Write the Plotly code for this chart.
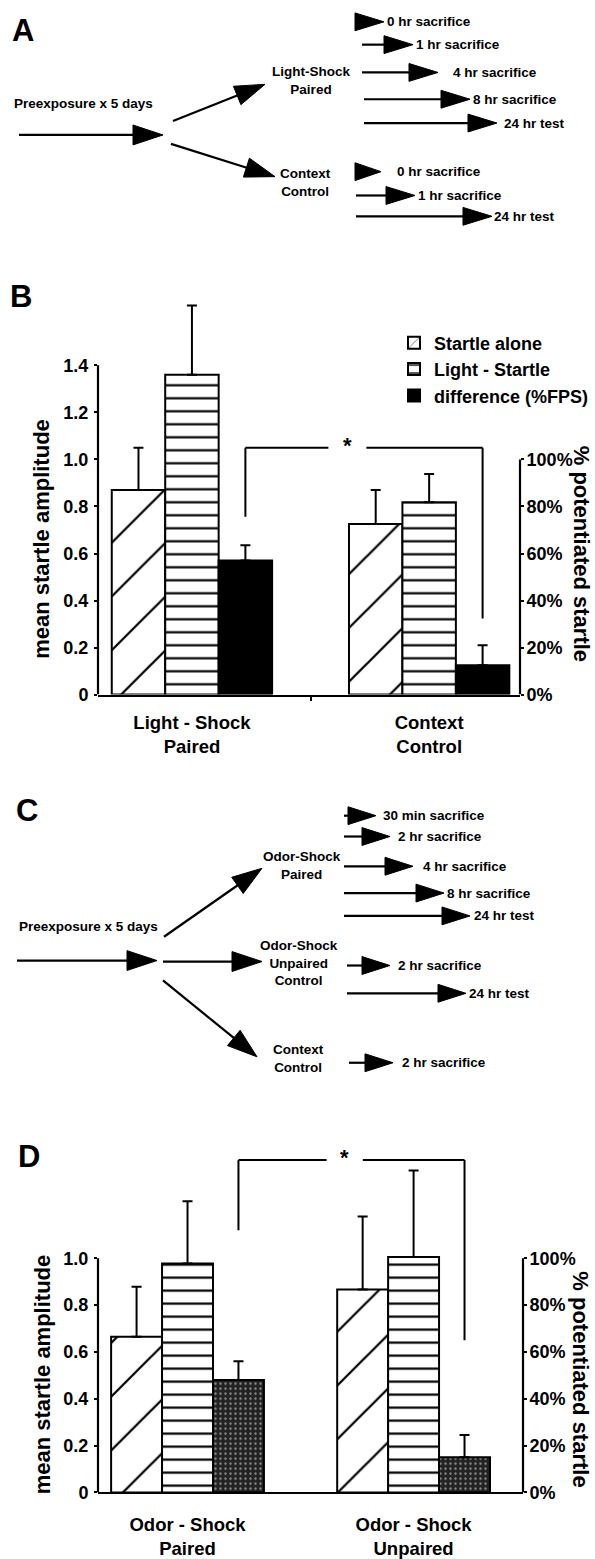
import math
import plotly.graph_objects as go

W, H = 595, 1559

# ---------------- data ----------------
series_names = ["Startle alone", "Light - Startle", "difference (%FPS)"]

groups_B = ["Light - Shock<br>Paired", "Context<br>Control"]
startle_alone_B = [0.87, 0.725]
startle_alone_err_B = [0.18, 0.145]
light_startle_B = [1.36, 0.818]
light_startle_err_B = [0.295, 0.12]
fps_B = [57, 12.5]
fps_err_B = [6.5, 8.5]
sig_B = [1.05, 0.756, 0.324]  # bracket top, left end, right end

groups_D = ["Odor - Shock<br>Paired", "Odor - Shock<br>Unpaired"]
startle_alone_D = [0.665, 0.866]
startle_alone_err_D = [0.213, 0.312]
light_startle_D = [0.978, 1.005]
light_startle_err_D = [0.265, 0.37]
fps_D = [48, 15]
fps_err_D = [8, 9.5]
sig_D = [1.42, 1.12, 0.65]

amp_ticks_B = [0, 0.2, 0.4, 0.6, 0.8, 1.0, 1.2, 1.4]
amp_labels_B = ["0", "0.2", "0.4", "0.6", "0.8", "1.0", "1.2", "1.4"]
amp_ticks_D = [0, 0.2, 0.4, 0.6, 0.8, 1.0]
amp_labels_D = ["0", "0.2", "0.4", "0.6", "0.8", "1.0"]
pct_ticks = [0, 20, 40, 60, 80, 100]
pct_labels = ["0%", "20%", "40%", "60%", "80%", "100%"]

left_title = "mean startle amplitude"
right_title = "% potentiated startle"

# diagram text
A_start = "Preexposure x 5 days"
A_branches = ["Light-Shock<br>Paired", "Context<br>Control"]
A_paired_ends = ["0 hr sacrifice", "1 hr sacrifice", "4 hr sacrifice", "8 hr sacrifice", "24 hr test"]
A_context_ends = ["0 hr sacrifice", "1 hr sacrifice", "24 hr test"]
C_start = "Preexposure x 5 days"
C_branches = ["Odor-Shock<br>Paired", "Odor-Shock<br>Unpaired<br>Control", "Context<br>Control"]
C_paired_ends = ["30 min sacrifice", "2 hr sacrifice", "4 hr sacrifice", "8 hr sacrifice", "24 hr test"]
C_unpaired_ends = ["2 hr sacrifice", "24 hr test"]
C_context_ends = ["2 hr sacrifice"]
panel_letters = ["A", "B", "C", "D"]

# ---------------- layout geometry (pixels) ----------------
def px_x(p):
    return p / W


def px_y(p):
    return 1 - p / H


CHART_FONT = "Liberation Sans, Arial, Helvetica, sans-serif"
DIAG_FONT = "Liberation Sans, Arial, Helvetica, sans-serif"
DIAG_SIZE = 13.5

B_geo = dict(left=98, right=520, zero=700, top=290, unit=237, xr=[-0.396, 1.383])
D_geo = dict(left=98, right=523, zero=1504, top=1150, unit=236, xr=[-0.396, 1.484])
BARGAP = 0.324
BAR_W = (1 - BARGAP) / 3

fig = go.Figure()

err_style = dict(type="data", symmetric=False, color="black", thickness=2, width=5)


def add_panel(cats, sa, sae, ls, lse, fps, fpse, xa, ya, ya2, grp, diff_marker, show):
    fig.add_trace(go.Bar(
        x=cats, y=sa, name=series_names[0], xaxis=xa, yaxis=ya,
        offsetgroup="1", alignmentgroup=grp, showlegend=show, legendgroup="g1",
        marker=dict(color="white", line=dict(color="black", width=2),
                    pattern=dict(shape="/", size=38, solidity=0.06, fgcolor="black", bgcolor="white",
                                 fgopacity=1)),
        error_y=dict(array=sae, arrayminus=[0] * len(sae), **err_style)))
    fig.add_trace(go.Bar(
        x=cats, y=ls, name=series_names[1], xaxis=xa, yaxis=ya,
        offsetgroup="2", alignmentgroup=grp, showlegend=show, legendgroup="g2",
        marker=dict(color="white", line=dict(color="black", width=2),
                    pattern=dict(shape="-", size=13, solidity=0.17, fgcolor="black", bgcolor="white",
                                 fgopacity=1)),
        error_y=dict(array=lse, arrayminus=[0] * len(lse), **err_style)))
    fig.add_trace(go.Bar(
        x=cats, y=fps, name=series_names[2], xaxis=xa, yaxis=ya2,
        offsetgroup="3", alignmentgroup=grp, showlegend=show, legendgroup="g3",
        marker=diff_marker,
        error_y=dict(array=fpse, arrayminus=[0] * len(fpse), **err_style)))


add_panel(groups_B, startle_alone_B, startle_alone_err_B, light_startle_B, light_startle_err_B,
          fps_B, fps_err_B, "x", "y", "y2", "B",
          dict(color="black", line=dict(color="black", width=2)), True)
add_panel(groups_D, startle_alone_D, startle_alone_err_D, light_startle_D, light_startle_err_D,
          fps_D, fps_err_D, "x2", "y3", "y4", "D",
          dict(color="#2b2b2b", line=dict(color="black", width=2),
               pattern=dict(shape=".", size=5, solidity=0.18, fgcolor="#8a8a8a", bgcolor="#222222",
                            fgopacity=1)), False)

tickfont = dict(family=CHART_FONT, size=18, color="black", weight="bold")
catfont = dict(family=CHART_FONT, size=18.5, color="black", weight="bold")


def yaxis_cfg(geo, top_val, ticks, labels, side="left", overlay=None, standoff=0):
    d = dict(domain=[px_y(geo["zero"]), px_y(geo["top"])], range=[0, top_val],
             tickvals=ticks, ticktext=labels, ticks="outside", ticklen=3, tickwidth=2,
             tickcolor="black", showline=False, showgrid=False, zeroline=False,
             tickfont=tickfont, side=side, fixedrange=True, ticklabelstandoff=standoff)
    if overlay:
        d["overlaying"] = overlay
    return d


B_top_val = (B_geo["zero"] - B_geo["top"]) / B_geo["unit"]
D_top_val = (D_geo["zero"] - D_geo["top"]) / D_geo["unit"]

fig.update_layout(
    width=W, height=H, autosize=False,
    margin=dict(l=0, r=0, t=0, b=0),
    paper_bgcolor="white", plot_bgcolor="rgba(0,0,0,0)",
    barmode="group", bargap=BARGAP, bargroupgap=0,
    xaxis=dict(domain=[px_x(B_geo["left"]), px_x(B_geo["right"])], anchor="y", type="category",
               range=B_geo["xr"], showline=True, linewidth=2, linecolor="black",
               ticks="outside", tickson="boundaries", ticklen=4, tickwidth=1.5, tickcolor="black",
               showgrid=False, zeroline=False, tickfont=catfont, fixedrange=True, ticklabelstandoff=10),
    yaxis=yaxis_cfg(B_geo, B_top_val, amp_ticks_B, amp_labels_B, standoff=2),
    yaxis2=dict(yaxis_cfg(B_geo, B_top_val * 100, pct_ticks, pct_labels, "right", "y", standoff=-1),
                anchor="x"),
    xaxis2=dict(domain=[px_x(D_geo["left"]), px_x(D_geo["right"])], anchor="y3", type="category",
                range=D_geo["xr"], showline=True, linewidth=2, linecolor="black",
                ticks="", showgrid=False, zeroline=False, tickfont=catfont, fixedrange=True,
                ticklabelstandoff=14),
    yaxis3=dict(yaxis_cfg(D_geo, D_top_val, amp_ticks_D, amp_labels_D, standoff=2), anchor="x2"),
    yaxis4=dict(yaxis_cfg(D_geo, D_top_val * 100, pct_ticks, pct_labels, "right", "y3", standoff=-1),
                anchor="x2"),
    legend=dict(x=px_x(394), y=px_y(327), xanchor="left", yanchor="top",
                font=dict(family=CHART_FONT, size=18, color="black", weight="bold"),
                bgcolor="rgba(0,0,0,0)", tracegroupgap=7, traceorder="normal"),
)

shapes = []
annotations = []

# axis lines (vertical)
for geo, yref, yref2, ltop in [(B_geo, "y", "y2", amp_ticks_B[-1]), (D_geo, "y3", "y4", amp_ticks_D[-1])]:
    shapes.append(dict(type="line", xref="paper", yref=yref, x0=px_x(geo["left"]), x1=px_x(geo["left"]),
                       y0=0, y1=ltop, line=dict(color="black", width=2.2)))
    shapes.append(dict(type="line", xref="paper", yref=yref2, x0=px_x(geo["right"]), x1=px_x(geo["right"]),
                       y0=0, y1=pct_ticks[-1], line=dict(color="black", width=2.2)))


# significance brackets
def bracket(xref, yref, sig, star_frac):
    top, lend, rend = sig
    xl = 0 + BAR_W
    xr = 1 + BAR_W
    xs = xl + star_frac * (xr - xl)
    gap = 0.08
    ln = dict(color="black", width=2)
    shapes.extend([
        dict(type="line", xref=xref, yref=yref, x0=xl, x1=xl, y0=lend, y1=top, line=ln),
        dict(type="line", xref=xref, yref=yref, x0=xl, x1=xs - gap, y0=top, y1=top, line=ln),
        dict(type="line", xref=xref, yref=yref, x0=xs + gap, x1=xr, y0=top, y1=top, line=ln),
        dict(type="line", xref=xref, yref=yref, x0=xr, x1=xr, y0=top, y1=rend, line=ln),
    ])
    annotations.append(dict(xref=xref, yref=yref, x=xs, y=top, text="*", showarrow=False,
                            yanchor="middle", xanchor="center", yshift=2,
                            font=dict(family=CHART_FONT, size=22, color="black", weight="bold")))


bracket("x", "y", sig_B, 0.43)
bracket("x2", "y3", sig_D, 0.47)


# axis titles
def vtitle(text, x, y, angle, size=22):
    annotations.append(dict(xref="paper", yref="paper", x=px_x(x), y=px_y(y), text=text, showarrow=False,
                            textangle=angle, xanchor="center", yanchor="middle",
                            font=dict(family=CHART_FONT, size=size, color="black", weight="bold")))


vtitle(left_title, 42, 543, -90)
vtitle(right_title, 581, 558, 90)
vtitle(left_title, 42, 1385, -90)
vtitle(right_title, 581, 1390, 90)

# panel letters
for letter, (lx, ly) in zip(panel_letters, [(23, 31), (21, 299), (27, 817), (29, 1165)]):
    annotations.append(dict(xref="paper", yref="paper", x=px_x(lx), y=px_y(ly), text=letter,
                            showarrow=False, xanchor="center", yanchor="middle",
                            font=dict(family=CHART_FONT, size=31, color="black", weight="bold")))


# diagram helpers
def arrow(x0, y0, x1, y1, hl=29, hw=18, lw=2.2, shaft=True):
    dx, dy = x1 - x0, y1 - y0
    L = math.hypot(dx, dy)
    ux, uy = dx / L, dy / L
    bx, by = x1 - ux * hl, y1 - uy * hl
    nx, ny = -uy, ux
    p1 = (bx + nx * hw / 2, by + ny * hw / 2)
    p2 = (bx - nx * hw / 2, by - ny * hw / 2)
    if shaft and L > hl:
        shapes.append(dict(type="line", xref="paper", yref="paper", x0=px_x(x0), y0=px_y(y0),
                           x1=px_x(bx + ux * 2), y1=px_y(by + uy * 2), line=dict(color="black", width=lw)))
    path = "M {:.5f},{:.5f} L {:.5f},{:.5f} L {:.5f},{:.5f} Z".format(
        px_x(x1), px_y(y1), px_x(p1[0]), px_y(p1[1]), px_x(p2[0]), px_y(p2[1]))
    shapes.append(dict(type="path", xref="paper", yref="paper", path=path, fillcolor="black",
                       line=dict(color="black", width=1)))


def dtext(text, x, y, anchor="left"):
    annotations.append(dict(xref="paper", yref="paper", x=px_x(x), y=px_y(y), text=text, showarrow=False,
                            xanchor=anchor, yanchor="middle", align="center",
                            font=dict(family=DIAG_FONT, size=DIAG_SIZE, color="black", weight="bold")))


# ---- panel A diagram ----
dtext(A_start, 12, 104)
arrow(19, 136, 163, 136, hl=30, hw=20)
arrow(173, 122, 265, 85, hl=30, hw=20)
arrow(171, 145, 275, 178, hl=30, hw=20)
dtext(A_branches[0], 311, 81, "center")
dtext(A_branches[1], 305, 184, "center")
A_paired_arrows = [(354, 384, 22, False), (362, 413, 45, True), (362, 438, 73, True),
                   (364, 470, 100, True), (364, 497, 124, True)]
A_paired_text_x = [385, 414, 451, 471, 502]
for lab, (ax0, ax1, ay, sh), tx in zip(A_paired_ends, A_paired_arrows, A_paired_text_x):
    arrow(ax0, ay, ax1, ay, hl=min(29, ax1 - ax0), hw=18, shaft=sh)
    dtext(lab, tx, ay)
A_context_arrows = [(355, 381, 173, False), (356, 415, 197, True), (356, 492, 218, True)]
A_context_text_x = [395, 416, 492]
for lab, (ax0, ax1, ay, sh), tx in zip(A_context_ends, A_context_arrows, A_context_text_x):
    arrow(ax0, ay, ax1, ay, hl=min(29, ax1 - ax0), hw=18, shaft=sh)
    dtext(lab, tx, ay)

# ---- panel C diagram ----
dtext(C_start, 17, 934)
arrow(17, 968, 157, 968, hl=30, hw=20)
arrow(164, 944, 262, 875, hl=30, hw=20)
arrow(163, 969, 262, 969, hl=30, hw=20)
arrow(163, 988, 257, 1065, hl=30, hw=20)
dtext(C_branches[0], 302, 872, "center")
dtext(C_branches[1], 299, 970, "center")
dtext(C_branches[2], 298, 1067, "center")
C_paired_arrows = [(344, 376, 822), (344, 390, 843), (344, 413, 873), (344, 444, 900), (344, 470, 923)]
C_paired_text_x = [381, 396, 421, 445, 472]
for lab, (ax0, ax1, ay), tx in zip(C_paired_ends, C_paired_arrows, C_paired_text_x):
    arrow(ax0, ay, ax1, ay, hl=28, hw=18)
    dtext(lab, tx, ay)
C_unpaired_arrows = [(347, 390, 973), (347, 466, 1001)]
C_unpaired_text_x = [396, 467]
for lab, (ax0, ax1, ay), tx in zip(C_unpaired_ends, C_unpaired_arrows, C_unpaired_text_x):
    arrow(ax0, ay, ax1, ay, hl=28, hw=18)
    dtext(lab, tx, ay)
C_context_arrows = [(349, 393, 1071)]
C_context_text_x = [400]
for lab, (ax0, ax1, ay), tx in zip(C_context_ends, C_context_arrows, C_context_text_x):
    arrow(ax0, ay, ax1, ay, hl=28, hw=18)
    dtext(lab, tx, ay)

fig.update_layout(shapes=shapes, annotations=annotations)
fig.write_html("out.html", config={"displayModeBar": False},
               post_script="document.body.style.margin='0px';")
